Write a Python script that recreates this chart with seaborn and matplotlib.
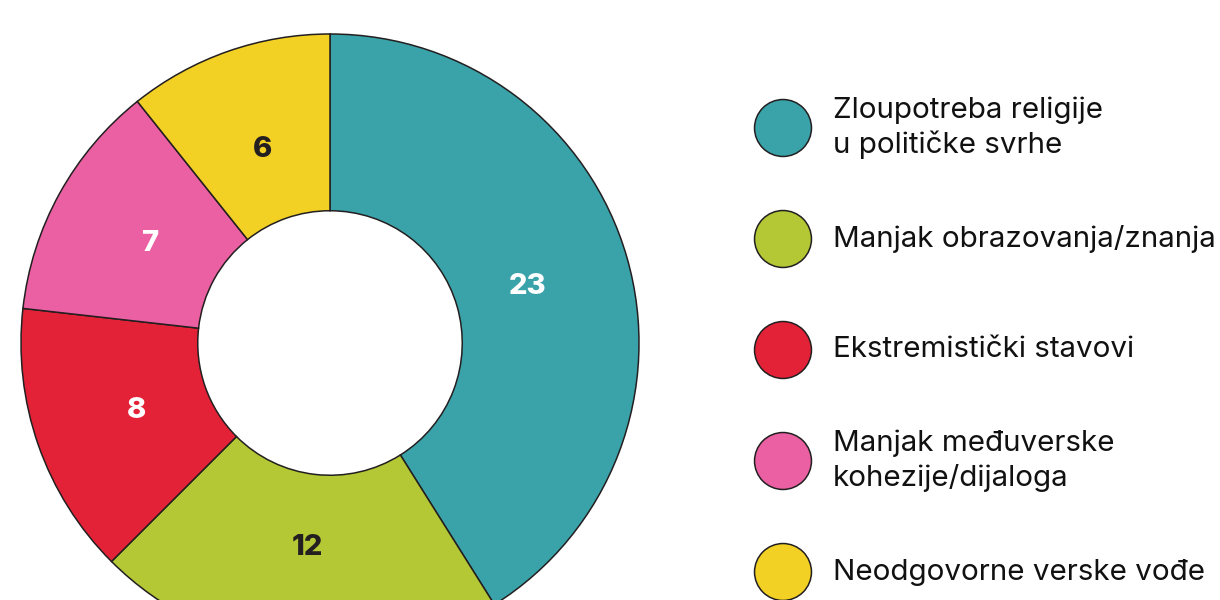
import matplotlib
matplotlib.use("Agg")
import matplotlib.pyplot as plt
import numpy as np
import seaborn as sns

# data
categories = ["Zloupotreba religije\nu političke svrhe",
              "Manjak obrazovanja/znanja",
              "Ekstremistički stavovi",
              "Manjak međuverske\nkohezije/dijaloga",
              "Neodgovorne verske vođe"]
values = [23, 12, 8, 7, 6]
colors = ["#3AA3AA", "#B3C834", "#E32237", "#EB60A3", "#F2D024"]
label_colors = ["white", "#231F20", "white", "white", "#231F20"]

sns.set_theme(style="white")
plt.rcParams["font.family"] = ["Inter", "DejaVu Sans"]
palette = sns.color_palette(colors)
edge = "#231F20"

fig = plt.figure(figsize=(12.2, 6), dpi=100)

# donut, centre at (330, 343) px, radius 309 px
ax = fig.add_axes([21 / 1220, -52 / 600, 618 / 1220, 618 / 600])
total = sum(values)
wedges, _, autotexts = ax.pie(
    values, colors=palette, startangle=90, counterclock=False,
    radius=1, pctdistance=0.665,
    autopct=lambda p: f"{round(p * total / 100)}",
    wedgeprops=dict(width=0.572, edgecolor=edge, linewidth=1.1),
)
for t, c in zip(autotexts, label_colors):
    t.set_color(c)
    t.set_fontsize(21)
    t.set_fontweight("heavy")
ax.set_xlim(-1, 1)
ax.set_ylim(-1, 1)
ax.axis("off")

# legend drawn as its own small axes
lax = fig.add_axes([740 / 1220, -27.5 / 600, 480 / 1220, 555 / 600])
ypos = np.arange(len(categories))
lax.scatter(np.full(len(ypos), 43), ypos, s=1681, c=palette,
            edgecolors=edge, linewidths=1.1, zorder=3)
for y, lab in zip(ypos, categories):
    lax.text(93, y, lab, va="center", ha="left", fontsize=21.3,
             color="#111111", linespacing=1.3)
lax.set_xlim(0, 480)
lax.set_ylim(len(categories) - 0.5, -0.5)
lax.axis("off")

fig.savefig("out.png", dpi=100, facecolor="white")
